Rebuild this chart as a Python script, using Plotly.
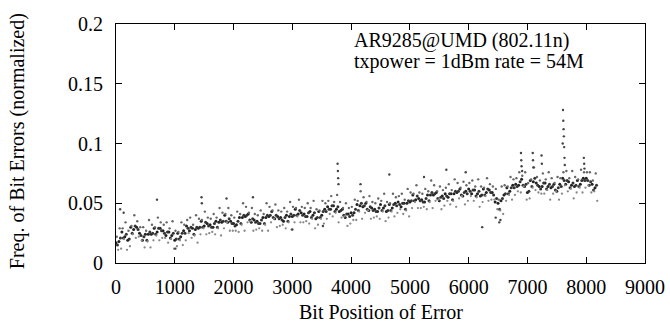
import plotly.graph_objects as go

# ---- data ----
step = 50
core_a = [0.017,0.018,0.026,0.022,0.019,0.030,0.028,0.030,0.025,0.019,0.024,0.024,0.024,0.029,0.026,0.029,0.027,0.023,0.026,0.023,
0.019,0.025,0.022,0.027,0.031,0.027,0.029,0.028,0.029,0.035,0.031,0.033,0.032,0.030,0.035,0.034,0.034,0.040,0.034,0.035,
0.033,0.032,0.038,0.038,0.039,0.041,0.034,0.036,0.035,0.033,0.038,0.038,0.039,0.043,0.037,0.039,0.038,0.035,0.040,0.039,
0.039,0.045,0.041,0.042,0.041,0.039,0.043,0.040,0.037,0.043,0.040,0.045,0.047,0.045,0.048,0.045,0.043,0.045,0.038,0.041,
0.042,0.042,0.049,0.048,0.047,0.050,0.044,0.046,0.045,0.043,0.049,0.046,0.043,0.049,0.046,0.050,0.051,0.047,0.050,0.050,
0.051,0.057,0.053,0.054,0.053,0.051,0.057,0.057,0.057,0.059,0.052,0.056,0.058,0.055,0.058,0.058,0.059,0.062,0.056,0.060,
0.062,0.058,0.061,0.058,0.056,0.062,0.059,0.061,0.059,0.051,0.050,0.052,0.057,0.063,0.060,0.065,0.066,0.065,0.070,0.064,
0.059,0.069,0.068,0.067,0.064,0.064,0.067,0.064,0.063,0.066,0.060,0.066,0.071,0.066,0.068,0.065,0.064,0.069,0.066,0.071,
0.071,0.065,0.066,0.063]
core_b = [0.015,0.021,0.021,0.024,0.020,0.025,0.031,0.028,0.023,0.022,0.019,0.026,0.025,0.024,0.029,0.027,0.025,0.026,0.021,0.025,
0.020,0.020,0.025,0.025,0.029,0.030,0.024,0.030,0.030,0.030,0.034,0.031,0.030,0.033,0.030,0.036,0.035,0.035,0.037,0.033,
0.031,0.035,0.033,0.040,0.040,0.036,0.037,0.034,0.033,0.036,0.033,0.040,0.040,0.038,0.040,0.037,0.036,0.038,0.035,0.041,
0.040,0.040,0.044,0.040,0.039,0.042,0.038,0.042,0.038,0.038,0.043,0.043,0.045,0.048,0.043,0.047,0.044,0.040,0.041,0.039,
0.040,0.045,0.044,0.050,0.048,0.045,0.047,0.044,0.043,0.046,0.044,0.048,0.044,0.044,0.049,0.048,0.049,0.050,0.045,0.052,
0.052,0.052,0.056,0.052,0.051,0.054,0.052,0.059,0.058,0.054,0.055,0.054,0.056,0.058,0.053,0.060,0.060,0.057,0.059,0.058,
0.060,0.061,0.056,0.060,0.057,0.057,0.062,0.059,0.057,0.054,0.045,0.054,0.058,0.058,0.063,0.063,0.064,0.068,0.065,0.066,
0.060,0.064,0.071,0.065,0.062,0.067,0.062,0.066,0.064,0.061,0.063,0.064,0.069,0.069,0.063,0.067,0.065,0.064,0.069,0.069,
0.069,0.068,0.061,0.065]
upper = [0.022,0.029,0.029,0.034,0.027,0.031,0.040,0.035,0.030,0.030,0.027,0.036,0.032,0.030,0.038,0.034,0.032,0.034,0.029,0.035,
0.027,0.026,0.034,0.032,0.036,0.038,0.032,0.040,0.037,0.036,0.043,0.038,0.037,0.041,0.038,0.046,0.042,0.041,0.046,0.040,
0.038,0.043,0.041,0.050,0.047,0.042,0.046,0.041,0.040,0.044,0.041,0.050,0.047,0.044,0.049,0.044,0.043,0.046,0.043,0.051,
0.047,0.046,0.053,0.047,0.046,0.050,0.046,0.052,0.045,0.044,0.052,0.050,0.052,0.056,0.051,0.057,0.051,0.046,0.050,0.046,
0.047,0.053,0.052,0.060,0.055,0.051,0.056,0.051,0.050,0.054,0.052,0.058,0.051,0.050,0.058,0.055,0.056,0.058,0.053,0.062,
0.059,0.058,0.065,0.059,0.058,0.062,0.060,0.069,0.065,0.060,0.064,0.061,0.063,0.066,0.061,0.070,0.067,0.063,0.068,0.065,
0.067,0.069,0.064,0.070,0.064,0.063,0.071,0.066,0.064,0.062,0.053,0.064,0.065,0.064,0.072,0.070,0.071,0.076,0.073,0.076,
0.067,0.070,0.080,0.072,0.069,0.075,0.070,0.076,0.071,0.067,0.072,0.071,0.076,0.077,0.071,0.077,0.072,0.070,0.078,0.076,
0.076,0.076,0.069,0.075]
lower = [0.011,0.012,0.020,0.011,0.014,0.024,0.021,0.022,0.019,0.013,0.018,0.013,0.019,0.023,0.019,0.021,0.021,0.017,0.020,0.012,
0.014,0.019,0.015,0.019,0.025,0.021,0.023,0.017,0.024,0.029,0.024,0.025,0.026,0.024,0.029,0.023,0.029,0.034,0.027,0.027,
0.027,0.026,0.032,0.027,0.034,0.035,0.027,0.028,0.029,0.027,0.032,0.027,0.034,0.037,0.030,0.031,0.032,0.029,0.034,0.028,
0.034,0.039,0.034,0.034,0.035,0.033,0.037,0.029,0.032,0.037,0.033,0.037,0.041,0.039,0.042,0.034,0.038,0.039,0.031,0.033,
0.036,0.036,0.043,0.037,0.042,0.044,0.037,0.038,0.039,0.037,0.043,0.035,0.038,0.043,0.039,0.042,0.045,0.041,0.044,0.039,
0.046,0.051,0.046,0.046,0.047,0.045,0.051,0.046,0.052,0.053,0.045,0.048,0.052,0.049,0.052,0.047,0.054,0.056,0.049,0.052,
0.056,0.052,0.055,0.047,0.051,0.056,0.052,0.053,0.053,0.045,0.044,0.041,0.052,0.057,0.053,0.057,0.060,0.059,0.064,0.053,
0.054,0.063,0.061,0.059,0.058,0.058,0.061,0.053,0.058,0.060,0.053,0.058,0.065,0.060,0.062,0.054,0.059,0.063,0.059,0.063,
0.065,0.059,0.060,0.052]
outlier_x = [70, 697, 1455, 1460, 1880, 2330, 3770, 3775, 3780, 3785, 4160, 4650, 5240, 5620, 5950, 6230, 6460, 6520, 6540, 6890,
             6895, 6900, 6910, 7090, 7095, 7100, 7240, 7245, 7600, 7605, 7610, 7615, 7620, 7625, 7630, 7635, 7960, 7965, 7970, 3000,
             3520, 1010, 130]
outlier_y = [0.045, 0.053, 0.055, 0.050, 0.054, 0.055, 0.083, 0.077, 0.071, 0.066, 0.066, 0.074, 0.072, 0.078, 0.076, 0.030, 0.038, 0.034, 0.036, 0.092,
             0.086, 0.081, 0.077, 0.092, 0.086, 0.080, 0.090, 0.083, 0.100, 0.128, 0.119, 0.112, 0.106, 0.097, 0.088, 0.082, 0.088, 0.083, 0.079, 0.028,
             0.031, 0.012, 0.042]

x_ticks = [0, 1000, 2000, 3000, 4000, 5000, 6000, 7000, 8000, 9000]
y_ticks = [0, 0.05, 0.1, 0.15, 0.2]
y_tick_text = ["0", "0.05", "0.1", "0.15", "0.2"]

FONT = "Liberation Serif"

def xs(offset, n):
    return [i * step + offset for i in range(n)]

fig = go.Figure()
series = [
    (xs(0, len(core_a)), core_a, "#222222", 3.0),
    (xs(25, len(core_b)), core_b, "#333333", 3.0),
    (xs(12, len(upper)), upper, "#666666", 2.4),
    (xs(37, len(lower)), lower, "#888888", 2.3),
    (outlier_x, outlier_y, "#444444", 2.4),
]
for x, y, col, sz in series:
    fig.add_trace(go.Scatter(x=x, y=y, mode="markers",
                             marker=dict(size=sz, color=col, line=dict(width=0)),
                             showlegend=False, hoverinfo="skip"))

axis_common = dict(showline=True, linecolor="black", linewidth=1, mirror="ticks",
                   ticks="inside", ticklen=6, tickcolor="black", tickwidth=1,
                   showgrid=False, zeroline=False,
                   tickfont=dict(family=FONT, size=20, color="black"))

fig.update_xaxes(range=[0, 9000], tickvals=x_ticks, ticklabelstandoff=6, **axis_common)
fig.update_yaxes(range=[0, 0.2], tickvals=y_ticks, ticktext=y_tick_text, ticklabelstandoff=8, **axis_common)

fig.update_layout(
    width=670, height=325,
    margin=dict(l=116, r=25, t=24, b=62, autoexpand=False),
    paper_bgcolor="white", plot_bgcolor="white",
    font=dict(family=FONT, size=20, color="black"),
    annotations=[
        dict(text="AR9285@UMD (802.11n)", xref="paper", yref="paper", x=0.446, y=0.932,
             xanchor="left", yanchor="middle", showarrow=False, font=dict(family=FONT, size=20)),
        dict(text="txpower = 1dBm rate = 54M", xref="paper", yref="paper", x=0.446, y=0.842,
             xanchor="left", yanchor="middle", showarrow=False, font=dict(family=FONT, size=20)),
        dict(text="Bit Position of Error", xref="paper", yref="paper", x=0.5, y=-0.205,
             xanchor="center", yanchor="middle", showarrow=False, font=dict(family=FONT, size=20)),
        dict(text="Freq. of Bit Errors (normalized)", xref="paper", yref="paper", x=-0.187, y=0.51,
             xanchor="center", yanchor="middle", textangle=-90, showarrow=False, font=dict(family=FONT, size=20)),
    ],
)

fig.write_html("out.html")
